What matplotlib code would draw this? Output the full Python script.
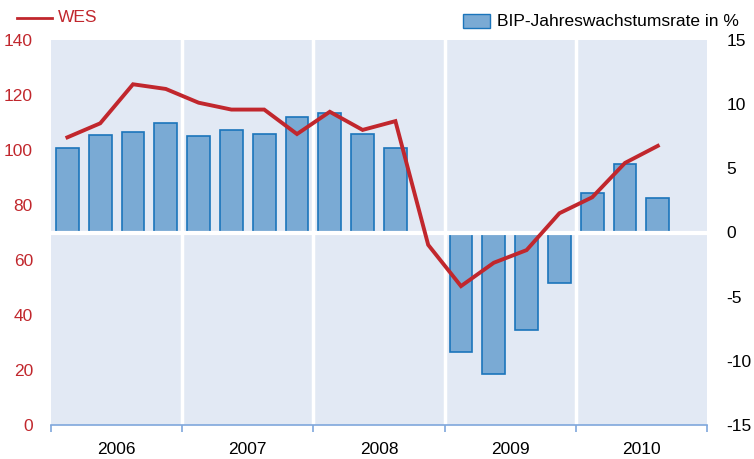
import matplotlib.pyplot as plt
from matplotlib.lines import Line2D
from matplotlib.patches import Rectangle
import numpy as np

plt.rcParams['font.family'] = ['Liberation Sans', 'DejaVu Sans']
plt.rcParams['axes.unicode_minus'] = False

years = ['2006', '2007', '2008', '2009', '2010']
# quarterly GDP growth (right axis, %), 2006 Q1 .. 2010 Q3; 2008 Q4 has no bar
bip = [6.6, 7.6, 7.8, 8.5, 7.5, 8.0, 7.7, 9.0, 9.3, 7.7, 6.6, np.nan,
       -9.3, -11.0, -7.6, -3.9, 3.1, 5.3, 2.7]
# WES index (left axis)
wes = [104.6, 109.7, 123.9, 122.2, 117.2, 114.7, 114.7, 105.8, 113.9,
       107.3, 110.5, 65.5, 50.5, 59.0, 63.6, 77.0, 82.8, 95.3, 101.5]

red = '#C1272D'
bar_face = '#7AAAD4'
bar_edge = '#1B75BB'
bg = '#E2E9F4'

fig = plt.figure(figsize=(7.54, 4.59), dpi=100)
ax = fig.add_axes([51/754, 34/459, 656/754, 385/459])
ax2 = ax.twinx()

x = np.arange(len(bip))

# background + white separators on the bar axis
ax2.set_zorder(1)
ax.set_zorder(2)
ax.patch.set_visible(False)
ax2.patch.set_visible(True)
ax2.patch.set_facecolor(bg)
for b in [3.5, 7.5, 11.5, 15.5]:
    ax2.axvline(b, color='white', lw=2.5, zorder=0.5)

ax2.bar(x, bip, width=0.7, color=bar_face, edgecolor=bar_edge, lw=1.2, zorder=2)
ax2.axhline(0, color='white', lw=3, zorder=3)
ax.plot(x, wes, color=red, lw=2.8, solid_joinstyle='miter', zorder=3)

ax.set_xlim(-0.5, 19.5)
ax.set_ylim(0, 140)
ax2.set_ylim(-15, 15)
ax.set_yticks(range(0, 141, 20))
ax2.set_yticks(range(-15, 16, 5))

for a in (ax, ax2):
    for s in a.spines.values():
        s.set_visible(False)
ax.spines['bottom'].set_visible(True)
ax.spines['bottom'].set_color('#7FA7DC')
ax.spines['bottom'].set_linewidth(1.2)

ax.tick_params(axis='y', length=0, labelsize=12.5, labelcolor=red, pad=13)
ax2.tick_params(axis='y', length=0, labelsize=12.5, labelcolor='black', pad=14)

ax.set_xticks([-0.5, 3.5, 7.5, 11.5, 15.5, 19.5])
ax.set_xticklabels([])
ax.tick_params(axis='x', which='major', length=5, width=1.2, color='#7FA7DC', direction='out')
ax.set_xticks([1.5, 5.5, 9.5, 13.5, 17.5], minor=True)
ax.set_xticklabels(years, minor=True)
ax.tick_params(axis='x', which='minor', length=0, labelsize=12.5, pad=12)

# legends
fig.add_artist(Line2D([17/754, 52/754], [1 - 18/459, 1 - 18/459], color=red, lw=2))
fig.text(58/754, 1 - 18/459, 'WES', color=red, fontsize=12.5, va='center', ha='left')
fig.add_artist(Rectangle((463/754, 1 - 28/459), 27/754, 14/459, facecolor=bar_face,
                         edgecolor=bar_edge, lw=1, transform=fig.transFigure))
fig.text(497/754, 1 - 21/459, 'BIP-Jahreswachstumsrate in %', color='black',
         fontsize=12.5, va='center', ha='left')

fig.savefig('out.png', dpi=100)
